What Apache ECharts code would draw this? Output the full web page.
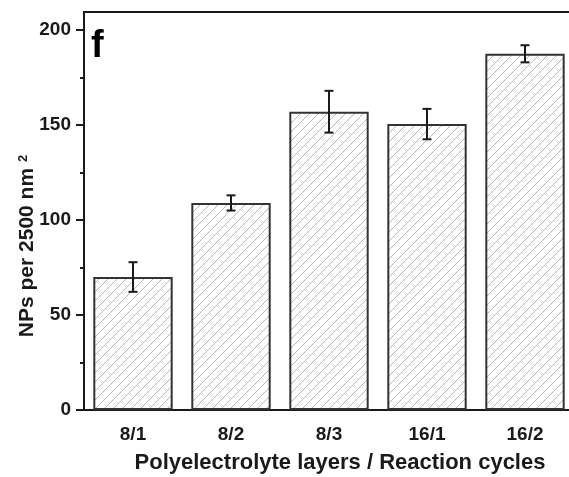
<!DOCTYPE html>
<html>
<head>
<meta charset="utf-8">
<script src="https://cdn.jsdelivr.net/npm/echarts@6/dist/echarts.min.js"></script>
<style>
html, body { margin: 0; padding: 0; background: #fff; }
#main { width: 569px; height: 477px; }
</style>
</head>
<body>
<div id="main"></div>
<script>
// data
var categories = ['8/1', '8/2', '8/3', '16/1', '16/2'];
var npCounts = [70, 109, 157, 150.5, 187.5];
var npErrors = [7.8, 4, 11, 8, 4.5];
var yTicks = [0, 50, 100, 150, 200];
var yMinorTicks = [25, 75, 125, 175];

// hatch pattern for the bars
function makeHatch() {
	var c = document.createElement('canvas');
	c.width = 9;
	c.height = 9;
	var ctx = c.getContext('2d');
	ctx.strokeStyle = '#b8b8b8';
	ctx.lineWidth = 1;
	ctx.beginPath();
	ctx.moveTo(-1, 10); ctx.lineTo(10, -1);
	ctx.moveTo(-5, 5); ctx.lineTo(5, -5);
	ctx.moveTo(4, 14); ctx.lineTo(14, 4);
	ctx.stroke();
	return c;
}

var errData = categories.map(function(c, i) {
	return [i, npCounts[i] - npErrors[i], npCounts[i] + npErrors[i]];
});

var font = 'Liberation Sans, Arial, sans-serif';
var ink = '#1a1a1a';

var myChart = echarts.init(document.getElementById('main'));
var option = {
	backgroundColor: '#fff',
	animation: false,
	grid: {
		left: 84,
		width: 490,
		top: 12,
		bottom: 67,
		outerBoundsMode: 'none',
		show: true,
		borderColor: ink,
		borderWidth: 2
	},
	xAxis: [{
		type: 'category',
		data: categories,
		axisLine: { lineStyle: { color: ink, width: 2 } },
		axisTick: { alignWithLabel: true, length: 7, lineStyle: { color: ink, width: 2 } },
		axisLabel: { color: ink, fontSize: 19, fontWeight: 'bold', fontFamily: font, margin: 15 },
		name: 'Polyelectrolyte layers / Reaction cycles',
		nameLocation: 'middle',
		nameGap: 42,
		nameTextStyle: { color: ink, fontSize: 22, fontWeight: 'bold', fontFamily: font, padding: [0, 0, 0, 22] }
	}, {
		type: 'category',
		data: categories,
		position: 'bottom',
		axisLine: { show: false },
		axisTick: { length: 4, lineStyle: { color: ink, width: 2 } },
		axisLabel: { show: false }
	}],
	yAxis: [{
		type: 'value',
		min: 0,
		max: 209.5,
		interval: 50,
		splitLine: { show: false },
		axisLine: { show: true, lineStyle: { color: ink, width: 2 } },
		axisTick: { show: true, length: 8, customValues: yTicks, lineStyle: { color: ink, width: 2 } },
		axisLabel: { color: ink, fontSize: 19, fontWeight: 'bold', fontFamily: font, margin: 13, customValues: yTicks }
	}, {
		type: 'value',
		min: 0,
		max: 209.5,
		interval: 50,
		position: 'left',
		splitLine: { show: false },
		axisLine: { show: false },
		axisTick: { show: true, length: 4, customValues: yMinorTicks, lineStyle: { color: ink, width: 2 } },
		axisLabel: { show: false }
	}],
	graphic: [{
		type: 'text',
		x: 27,
		y: 246,
		rotation: Math.PI / 2,
		style: {
			text: '{a|NPs per 2500 nm }{b|2}',
			align: 'center',
			verticalAlign: 'middle',
			rich: {
				a: { fontSize: 21, fontWeight: 'bold', fontFamily: font, fill: ink, verticalAlign: 'bottom' },
				b: { fontSize: 13, fontWeight: 'bold', fontFamily: font, fill: ink, verticalAlign: 'top' }
			}
		}
	}, {
		type: 'text',
		left: 91,
		top: 28,
		style: { text: 'f', fontSize: 38, fontWeight: 'bold', fontFamily: font, fill: '#000' }
	}],
	series: [{
		type: 'bar',
		data: npCounts,
		barCategoryGap: '19%',
		itemStyle: {
			color: { image: makeHatch(), repeat: 'repeat' },
			borderColor: '#333',
			borderWidth: 2
		}
	}, {
		type: 'custom',
		data: errData,
		encode: { x: 0, y: [1, 2] },
		z: 5,
		renderItem: function(params, api) {
			var x = api.value(0);
			var lo = api.coord([x, api.value(1)]);
			var hi = api.coord([x, api.value(2)]);
			var w = 4.5;
			var st = { stroke: ink, lineWidth: 2 };
			return {
				type: 'group',
				children: [
					{ type: 'line', shape: { x1: lo[0], y1: lo[1], x2: hi[0], y2: hi[1] }, style: st },
					{ type: 'line', shape: { x1: lo[0] - w, y1: lo[1], x2: lo[0] + w, y2: lo[1] }, style: st },
					{ type: 'line', shape: { x1: hi[0] - w, y1: hi[1], x2: hi[0] + w, y2: hi[1] }, style: st }
				]
			};
		}
	}]
};
myChart.setOption(option);
</script>
</body>
</html>
